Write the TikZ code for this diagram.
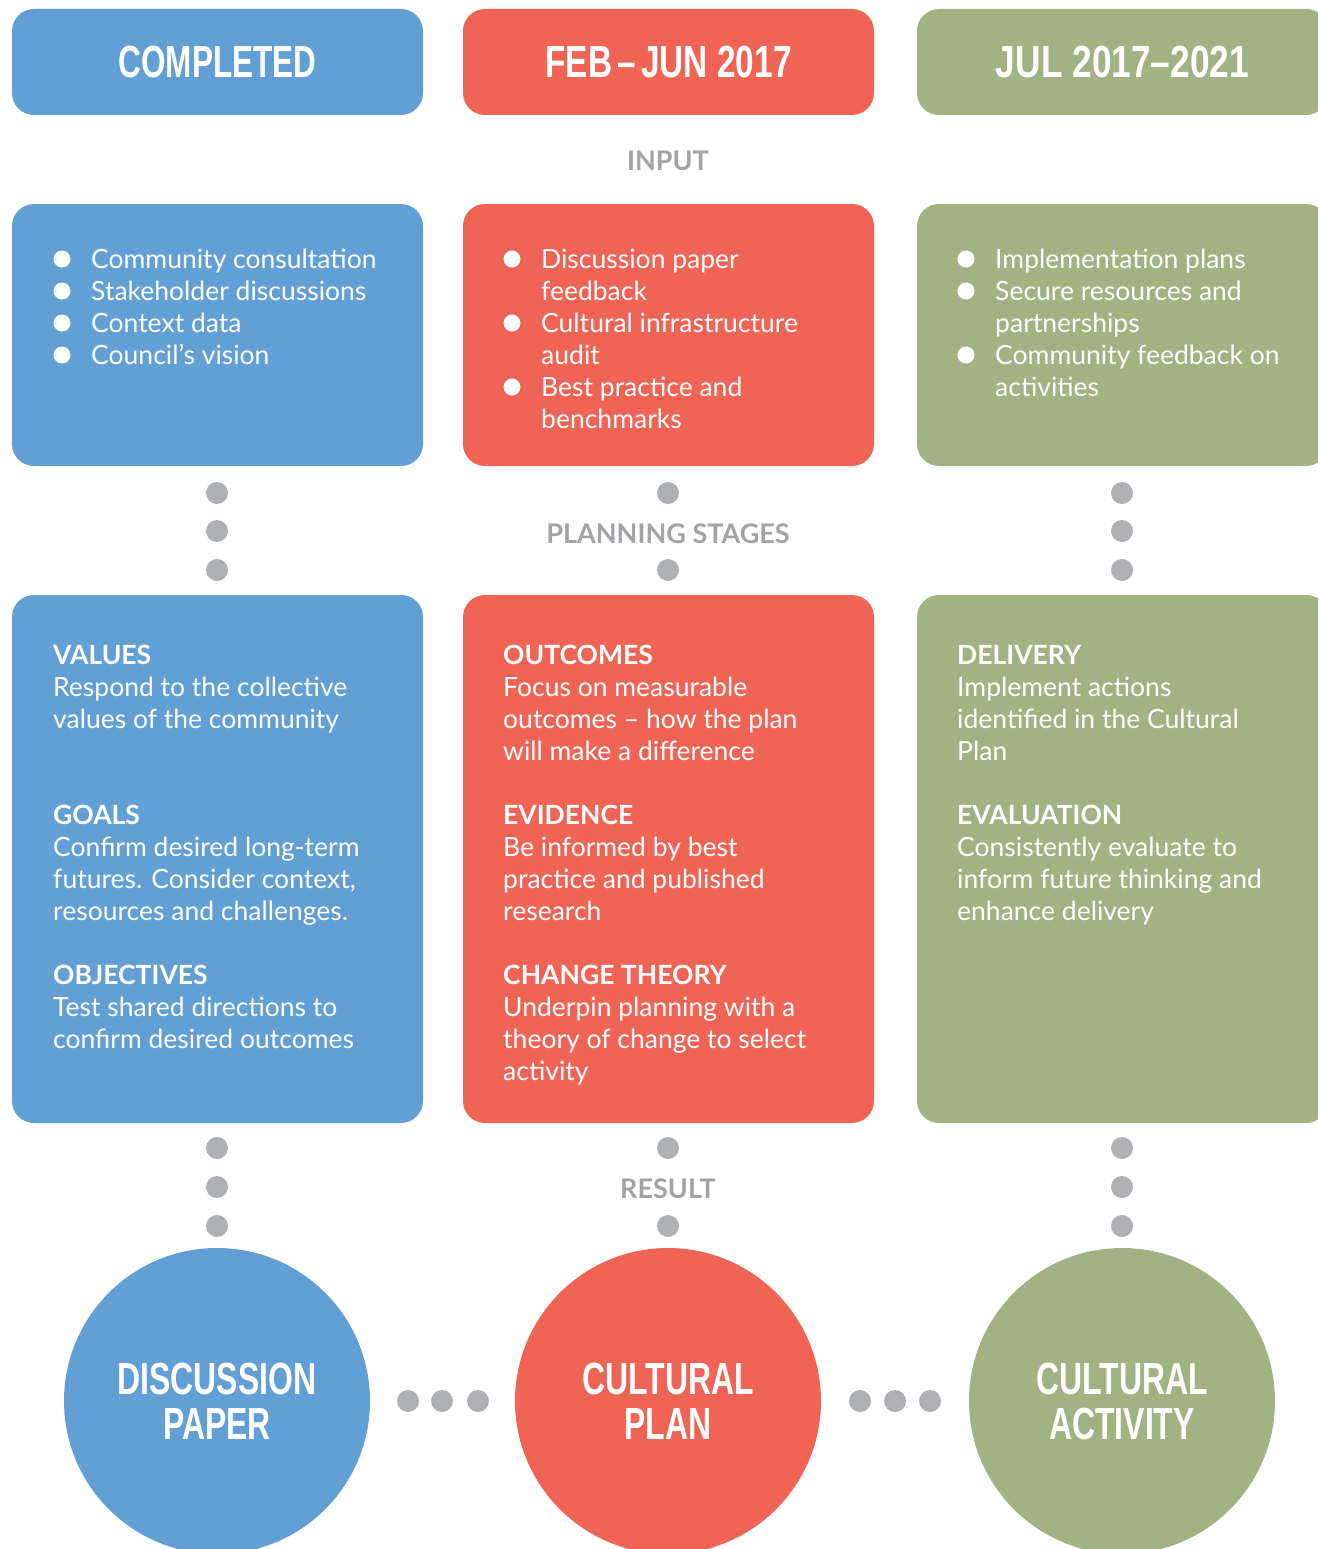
\documentclass[tikz,border=0pt]{standalone}
\usepackage{fontspec}
\setmainfont{Lato}
\newfontfamily\hdrfont{Liberation Sans}[FakeStretch=0.70]
\newfontfamily\circfont{Liberation Sans}[FakeStretch=0.71]
\definecolor{cblue}{HTML}{619FD5}
\definecolor{cred}{HTML}{F06455}
\definecolor{cgreen}{HTML}{A0B483}
\definecolor{dotgray}{HTML}{AFB0B3}
\definecolor{lblgray}{HTML}{A2A3A6}
\tikzset{
  hdr/.style={rounded corners=22pt, minimum width=411pt, minimum height=106pt, inner sep=0pt, text=white,
    font=\hdrfont\bfseries\fontsize{45}{45}\selectfont},
  inbox/.style={rounded corners=22pt, minimum width=411pt, minimum height=262pt, inner sep=0pt},
  planbox/.style={rounded corners=22pt, minimum width=411pt, minimum height=528pt, inner sep=0pt},
  bigcirc/.style={circle, minimum size=306pt, inner sep=0pt, text=white, align=center,
    font=\circfont\bfseries\fontsize{45}{45}\selectfont},
  dot/.style={circle, fill=dotgray, minimum size=22pt, inner sep=0pt},
  bul/.style={circle, fill=white, minimum size=17pt, inner sep=0pt},
  txt/.style={anchor=base west, inner sep=0pt, text=white, font=\fontsize{26.5}{32}\selectfont},
  lbl/.style={anchor=base, inner sep=0pt, text=lblgray, font=\bfseries\fontsize{27}{27}\selectfont},
}
\newcommand{\tb}[1]{\parbox[t]{400pt}{\raggedright #1}}
\begin{document}
\begin{tikzpicture}[x=1pt,y=-1pt]
\useasboundingbox (0,0) rectangle (1318,1549);
\clip (0,0) rectangle (1318,1549);

% headers
\node[hdr, fill=cblue] (h1) at (217.5,62) {COMPLETED};
\node[hdr, fill=cred] (h2) at (668.5,62) {\scalebox{1.06}[1]{FEB\hspace{5pt}–\hspace{5pt}JUN 2017}};
\node[hdr, fill=cgreen] (h3) at (1122.5,62) {\scalebox{1.12}[1]{JUL 2017–2021}};

\node[lbl] (linput) at (668,171) {INPUT};

% input boxes
\node[inbox, fill=cblue] (i1) at (217.5,335) {};
\node[inbox, fill=cred] (i2) at (668.5,335) {};
\node[inbox, fill=cgreen] (i3) at (1122.5,335) {};

% blue bullets
\node[bul] (b11) at (62,259) {};
\node[txt] (t11) at (91,268) {Community consultation};
\node[bul] (b12) at (62,291) {};
\node[txt] (t12) at (91,300) {Stakeholder discussions};
\node[bul] (b13) at (62,323) {};
\node[txt] (t13) at (91,332) {Context data};
\node[bul] (b14) at (62,355) {};
\node[txt] (t14) at (91,364) {Council’s vision};

% red bullets
\node[bul] (b21) at (512,259) {};
\node[txt] (t21) at (541,268) {\tb{Discussion paper\\feedback}};
\node[bul] (b22) at (512,323) {};
\node[txt] (t22) at (541,332) {\tb{Cultural infrastructure\\audit}};
\node[bul] (b23) at (512,387) {};
\node[txt] (t23) at (541,396) {\tb{Best practice and\\benchmarks}};

% green bullets
\node[bul] (b31) at (966,259) {};
\node[txt] (t31) at (995,268) {Implementation plans};
\node[bul] (b32) at (966,291) {};
\node[txt] (t32) at (995,300) {\tb{Secure resources and\\partnerships}};
\node[bul] (b33) at (966,355) {};
\node[txt] (t33) at (995,364) {\tb{Community feedback on\\activities}};

% dots between input and planning
\node[dot] (d1a) at (217,493) {};
\node[dot] (d1b) at (217,531) {};
\node[dot] (d1c) at (217,570) {};
\node[dot] (d2a) at (668,493) {};
\node[lbl] (lplan) at (668,543) {PLANNING STAGES};
\node[dot] (d2c) at (668,570) {};
\node[dot] (d3a) at (1122,493) {};
\node[dot] (d3b) at (1122,531) {};
\node[dot] (d3c) at (1122,570) {};

% planning boxes
\node[planbox, fill=cblue] (p1) at (217.5,859) {};
\node[planbox, fill=cred] (p2) at (668.5,859) {};
\node[planbox, fill=cgreen] (p3) at (1122.5,859) {};

\node[txt] (s11) at (53,664) {\tb{\textbf{VALUES}\\Respond to the collective\\values of the community}};
\node[txt] (s12) at (53,824) {\tb{\textbf{GOALS}\\Confirm desired long-term\\futures. Consider context,\\resources and challenges.}};
\node[txt] (s13) at (53,984) {\tb{\textbf{OBJECTIVES}\\Test shared directions to\\confirm desired outcomes}};

\node[txt] (s21) at (503,664) {\tb{\textbf{OUTCOMES}\\Focus on measurable\\outcomes – how the plan\\will make a difference}};
\node[txt] (s22) at (503,824) {\tb{\textbf{EVIDENCE}\\Be informed by best\\practice and published\\research}};
\node[txt] (s23) at (503,984) {\tb{\textbf{CHANGE THEORY}\\Underpin planning with a\\theory of change to select\\activity}};

\node[txt] (s31) at (957,664) {\tb{\textbf{DELIVERY}\\Implement actions\\identified in the Cultural\\Plan}};
\node[txt] (s32) at (957,824) {\tb{\textbf{EVALUATION}\\Consistently evaluate to\\inform future thinking and\\enhance delivery}};

% dots between planning and result
\node[dot] (e1a) at (217,1148) {};
\node[dot] (e1b) at (217,1187) {};
\node[dot] (e1c) at (217,1226) {};
\node[dot] (e2a) at (668,1148) {};
\node[lbl] (lres) at (668,1198) {RESULT};
\node[dot] (e2c) at (668,1226) {};
\node[dot] (e3a) at (1122,1148) {};
\node[dot] (e3b) at (1122,1187) {};
\node[dot] (e3c) at (1122,1226) {};

% result circles
\node[bigcirc, fill=cblue] (c1) at (217,1401) {DISCUSSION\\PAPER};
\node[bigcirc, fill=cred] (c2) at (668,1401) {CULTURAL\\PLAN};
\node[bigcirc, fill=cgreen] (c3) at (1122,1401) {CULTURAL\\ACTIVITY};

\node[dot] (f1) at (408,1401) {};
\node[dot] (f2) at (442,1401) {};
\node[dot] (f3) at (478,1401) {};
\node[dot] (g1) at (860,1401) {};
\node[dot] (g2) at (895,1401) {};
\node[dot] (g3) at (930,1401) {};
\end{tikzpicture}
\end{document}
